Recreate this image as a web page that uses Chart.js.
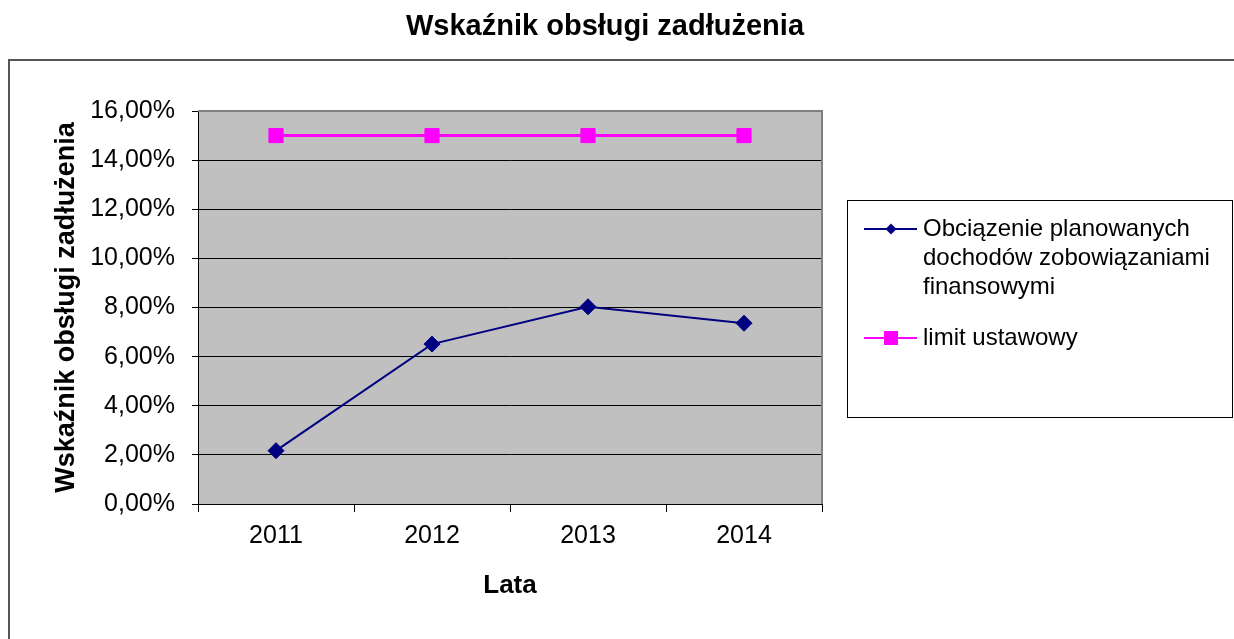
<!DOCTYPE html>
<html lang="pl">
<head>
  <meta charset="utf-8">
  <title>Wskaźnik obsługi zadłużenia</title>
  <script src="https://cdn.jsdelivr.net/npm/chart.js@4.4.0/dist/chart.umd.min.js"></script>
  <style>
    html, body { margin: 0; padding: 0; background: #fff; }
    #holder { width: 1234px; height: 639px; }
  </style>
</head>
<body>
  <div id="holder"><canvas id="chart" width="1234" height="639"></canvas></div>
  <script>
    const years = ['2011', '2012', '2013', '2014'];
    const debtLoad = [2.17, 6.51, 8.03, 7.36];
    const legalLimit = [15, 15, 15, 15];
    const seriesNames = ['Obciązenie planowanych dochodów zobowiązaniami finansowymi', 'limit ustawowy'];
    const chartTitle = 'Wskaźnik obsługi zadłużenia';
    const xTitle = 'Lata';
    const yTitle = 'Wskaźnik obsługi zadłużenia';

    const FONT = "'Liberation Sans', Arial, sans-serif";

    // background, outer frame, title and grey plot area
    const framePlugin = {
      id: 'frame',
      beforeDraw(chart) {
        const { ctx, chartArea: a } = chart;
        ctx.save();
        ctx.fillStyle = '#fff';
        ctx.fillRect(0, 0, chart.width, chart.height);
        ctx.strokeStyle = '#555';
        ctx.lineWidth = 2;
        ctx.strokeRect(9, 60, chart.width + 20, chart.height + 20);
        ctx.fillStyle = '#000';
        ctx.font = 'bold 29px ' + FONT;
        ctx.textAlign = 'center';
        ctx.textBaseline = 'middle';
        ctx.fillText(chartTitle, 605, 27);
        ctx.fillStyle = '#C0C0C0';
        ctx.fillRect(a.left, a.top, a.right - a.left, a.bottom - a.top);
        ctx.restore();
      },
      beforeDatasetsDraw(chart) {
        const { ctx, chartArea: a } = chart;
        ctx.save();
        ctx.strokeStyle = '#808080';
        ctx.lineWidth = 2;
        ctx.beginPath();
        ctx.moveTo(a.left, a.top);
        ctx.lineTo(a.right, a.top);
        ctx.lineTo(a.right, a.bottom);
        ctx.stroke();
        ctx.restore();
      }
    };

    function wrapText(ctx, text, maxWidth) {
      const words = text.split(' ');
      const lines = [];
      let line = '';
      words.forEach(w => {
        const test = line ? line + ' ' + w : w;
        if (line && ctx.measureText(test).width > maxWidth) {
          lines.push(line);
          line = w;
        } else {
          line = test;
        }
      });
      if (line) lines.push(line);
      return lines;
    }

    const legendPlugin = {
      id: 'boxLegend',
      afterDraw(chart) {
        const { ctx } = chart;
        ctx.save();
        ctx.fillStyle = '#fff';
        ctx.fillRect(847.5, 200.5, 385, 217);
        ctx.strokeStyle = '#000';
        ctx.lineWidth = 1;
        ctx.strokeRect(847.5, 200.5, 385, 217);
        ctx.font = '24px ' + FONT;
        ctx.textBaseline = 'middle';
        ctx.textAlign = 'left';
        let y = 229;
        chart.data.datasets.forEach(ds => {
          const lines = wrapText(ctx, ds.label, 300);
          ctx.strokeStyle = ds.borderColor;
          ctx.lineWidth = 2;
          ctx.beginPath();
          ctx.moveTo(864, y);
          ctx.lineTo(917, y);
          ctx.stroke();
          ctx.fillStyle = ds.backgroundColor;
          ctx.beginPath();
          if (ds.pointStyle === 'rectRot') {
            ctx.moveTo(891 - 5.5, y);
            ctx.lineTo(891, y - 5.5);
            ctx.lineTo(891 + 5.5, y);
            ctx.lineTo(891, y + 5.5);
            ctx.closePath();
          } else {
            ctx.rect(891 - 7, y - 7, 14, 14);
          }
          ctx.fill();
          ctx.fillStyle = '#000';
          lines.forEach((ln, j) => ctx.fillText(ln, 923, y + j * 29));
          y += lines.length * 29 + 22;
        });
        ctx.restore();
      }
    };

    const config = {
      type: 'line',
      data: {
        labels: years,
        datasets: [
          {
            label: seriesNames[0],
            data: debtLoad,
            borderColor: '#000080',
            backgroundColor: '#000080',
            borderWidth: 2,
            pointStyle: 'rectRot',
            pointRadius: 8,
            pointBorderWidth: 1,
            tension: 0
          },
          {
            label: seriesNames[1],
            data: legalLimit,
            borderColor: '#FF00FF',
            backgroundColor: '#FF00FF',
            borderWidth: 3,
            pointStyle: 'rect',
            pointRadius: 10,
            pointBorderWidth: 1,
            tension: 0
          }
        ]
      },
      options: {
        responsive: false,
        animation: false,
        layout: { padding: { top: 111, right: 412, bottom: 0, left: 0 } },
        plugins: {
          legend: { display: false },
          title: { display: false },
          tooltip: { enabled: false }
        },
        scales: {
          x: {
            offset: true,
            grid: {
              offset: true,
              drawOnChartArea: false,
              drawTicks: true,
              tickLength: 8,
              color: '#000',
              tickColor: '#000'
            },
            border: { display: true, color: '#000', width: 1 },
            ticks: {
              color: '#000',
              font: { family: FONT, size: 25 },
              padding: 9,
              maxRotation: 0,
              autoSkip: false
            },
            title: {
              display: true,
              text: xTitle,
              color: '#000',
              font: { family: FONT, size: 26, weight: 'bold' },
              padding: { top: 0, bottom: 38 }
            },
            afterFit: s => { s.height = 135; }
          },
          y: {
            min: 0,
            max: 16,
            ticks: {
              stepSize: 2,
              color: '#000',
              font: { family: FONT, size: 25 },
              padding: 17,
              callback: v => v.toFixed(2).replace('.', ',') + '%'
            },
            grid: {
              color: '#000',
              tickColor: '#000',
              tickLength: 6,
              lineWidth: 1
            },
            border: { display: true, color: '#000', width: 1 },
            title: {
              display: true,
              text: yTitle,
              color: '#000',
              font: { family: FONT, size: 27, weight: 'bold' },
              padding: { top: 50, bottom: 0 }
            },
            afterFit: s => { s.width = 198; }
          }
        }
      },
      plugins: [framePlugin, legendPlugin]
    };

    window.chart = new Chart(document.getElementById('chart'), config);
  </script>
</body>
</html>
